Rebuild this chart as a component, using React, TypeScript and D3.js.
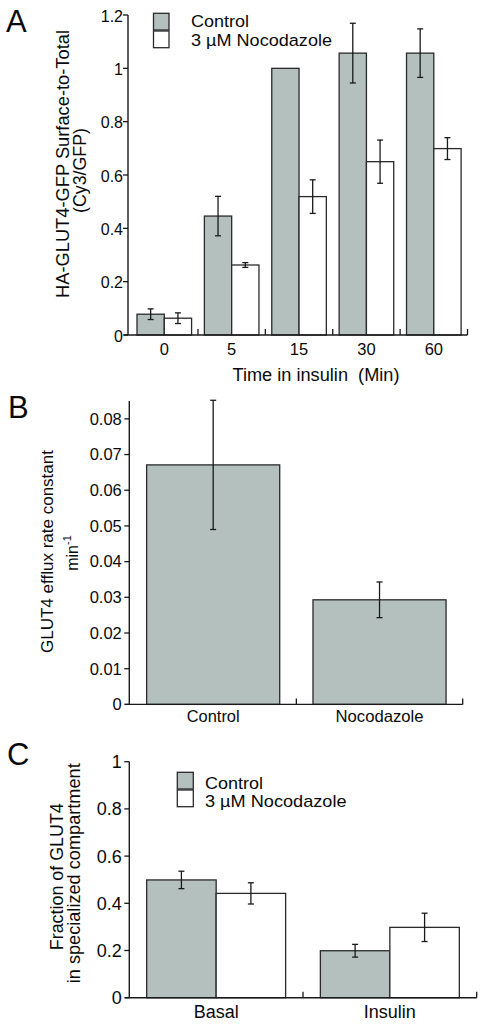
import React from "react";
import * as d3 from "d3";

// ---------- Data ----------
// Panel A
const timeCategories = ["0", "5", "15", "30", "60"];
const aControl = [0.078, 0.446, 1.0, 1.057, 1.057];
const aControlErr = [0.02, 0.074, 0, 0.112, 0.091];
const aNoco = [0.063, 0.2625, 0.519, 0.65, 0.699];
const aNocoErr = [0.02, 0.009, 0.063, 0.081, 0.041];
const aTicks = [0, 0.2, 0.4, 0.6, 0.8, 1, 1.2];

// Panel B
const bCategories = ["Control", "Nocodazole"];
const bValues = [0.0671, 0.0293];
const bErr = [0.0181, 0.005];
const bTicks = [0, 0.01, 0.02, 0.03, 0.04, 0.05, 0.06, 0.07, 0.08];

// Panel C
const cCategories = ["Basal", "Insulin"];
const cControl = [0.499, 0.199];
const cControlErr = [0.037, 0.027];
const cNoco = [0.442, 0.298];
const cNocoErr = [0.045, 0.06];
const cTicks = [0, 0.2, 0.4, 0.6, 0.8, 1];

const seriesNames = ["Control", "3 \u00b5M Nocodazole"];

// ---------- Styles ----------
const FONT = "'Liberation Sans', Arial, Helvetica, sans-serif";
const GRAY = "#b3c0bd";
const AX = "#1a1a1a";
const BAR_STROKE = "#2a2a2a";
const TXT = "#0a0a0a";

const fmt = (v: number) => String(+v.toFixed(3));

function ErrorBar({ x, y0, y1 }: { x: number; y0: number; y1: number }) {
  if (Math.abs(y1 - y0) < 0.5) return null;
  return (
    <g stroke={AX} strokeWidth={1.3}>
      <line x1={x} x2={x} y1={y0} y2={y1} />
      <line x1={x - 3} x2={x + 3} y1={y0} y2={y0} />
      <line x1={x - 3} x2={x + 3} y1={y1} y2={y1} />
    </g>
  );
}

function YAxis({
  y,
  x,
  ticks,
  top,
  fontSize,
  gap,
  dy,
}: {
  y: d3.ScaleLinear<number, number>;
  x: number;
  ticks: number[];
  top: number;
  fontSize: number;
  gap: number;
  dy: number;
}) {
  return (
    <g>
      <line x1={x} x2={x} y1={y(0)} y2={top} stroke={AX} strokeWidth={1.4} />
      {ticks.map((t) => (
        <g key={t}>
          <line x1={x - 5} x2={x} y1={y(t)} y2={y(t)} stroke={AX} strokeWidth={1.3} />
          <text
            x={x - gap}
            y={y(t) + dy}
            textAnchor="end"
            fontSize={fontSize}
            fontFamily={FONT}
            fill={TXT}
          >
            {fmt(t)}
          </text>
        </g>
      ))}
    </g>
  );
}

function XAxisLine({
  x,
  y0,
  xStart,
}: {
  x: d3.ScaleBand<string>;
  y0: number;
  xStart: number;
}) {
  const r = x.range();
  const step = x.step();
  const n = x.domain().length;
  const bounds = d3.range(1, n + 1).map((i) => r[0] + step * i);
  return (
    <g stroke={AX} strokeWidth={1.4}>
      <line x1={xStart} x2={r[1]} y1={y0} y2={y0} />
      {bounds.map((b, i) => (
        <line key={i} x1={b} x2={b} y1={y0} y2={y0 - 6} strokeWidth={1.3} />
      ))}
    </g>
  );
}

function Legend({
  x,
  y,
  boxW,
  boxH,
  textX,
  baselines,
  fontSize,
  lengths,
}: {
  x: number;
  y: number[];
  boxW: number;
  boxH: number;
  textX: number;
  baselines: number[];
  fontSize: number;
  lengths: number[];
}) {
  const fills = [GRAY, "#fff"];
  return (
    <g>
      {seriesNames.map((s, i) => (
        <g key={s}>
          <rect
            x={x}
            y={y[i]}
            width={boxW}
            height={boxH}
            fill={fills[i]}
            stroke={BAR_STROKE}
            strokeWidth={1.3}
          />
          <text
            x={textX}
            y={baselines[i]}
            fontSize={fontSize}
            fontFamily={FONT}
            fill={TXT}
            textLength={lengths[i]}
            lengthAdjust="spacingAndGlyphs"
          >
            {s}
          </text>
        </g>
      ))}
    </g>
  );
}

function Label({
  x,
  y,
  rotate,
  size,
  length,
  children,
}: {
  x: number;
  y: number;
  rotate?: boolean;
  size: number;
  length?: number;
  children: React.ReactNode;
}) {
  return (
    <text
      transform={`translate(${x},${y})${rotate ? " rotate(-90)" : ""}`}
      textAnchor="middle"
      fontSize={size}
      fontFamily={FONT}
      fill={TXT}
      textLength={length}
      lengthAdjust={length ? "spacingAndGlyphs" : undefined}
    >
      {children}
    </text>
  );
}

export default function App() {
  // ----- Panel A -----
  const ax = d3
    .scaleBand<string>()
    .domain(timeCategories)
    .range([130.6, 467.5])
    .paddingInner(0.19)
    .paddingOuter(0.095);
  const axInner = d3
    .scaleBand<string>()
    .domain(["c", "n"])
    .range([0, ax.bandwidth()]);
  const ay = d3.scaleLinear().domain([0, 1.2]).range([335, 15]);

  // ----- Panel B -----
  const bx = d3
    .scaleBand<string>()
    .domain(bCategories)
    .range([130, 462.7])
    .paddingInner(0.2)
    .paddingOuter(0.1);
  const by = d3.scaleLinear().domain([0, 0.085]).range([704.4, 401]);

  // ----- Panel C -----
  const cx = d3
    .scaleBand<string>()
    .domain(cCategories)
    .range([129.3, 476.7])
    .paddingInner(0.2)
    .paddingOuter(0.1);
  const cxInner = d3
    .scaleBand<string>()
    .domain(["c", "n"])
    .range([0, cx.bandwidth()]);
  const cy = d3.scaleLinear().domain([0, 1]).range([997.7, 761.7]);

  const bw = axInner.bandwidth();
  const cbw = cxInner.bandwidth();

  const bLabelLen = [53, 88];
  const cLabelLen = [45, 52];

  return (
    <svg
      width={480}
      height={1024}
      style={{ position: "absolute", left: 0, top: 0, background: "#fff" }}
      fontFamily={FONT}
    >
      <rect x={0} y={0} width={480} height={1024} fill="#fff" />

      {/* ================= Panel A ================= */}
      <text x={6} y={31.5} fontSize={31} fontFamily={FONT} fill={TXT}>
        A
      </text>
      {timeCategories.map((c, i) => {
        const x0 = ax(c)!;
        return (
          <g key={c}>
            <rect
              x={x0 + axInner("c")!}
              y={ay(aControl[i])}
              width={bw}
              height={ay(0) - ay(aControl[i])}
              fill={GRAY}
              stroke={BAR_STROKE}
              strokeWidth={1.3}
            />
            <rect
              x={x0 + axInner("n")!}
              y={ay(aNoco[i])}
              width={bw}
              height={ay(0) - ay(aNoco[i])}
              fill="#fff"
              stroke={BAR_STROKE}
              strokeWidth={1.3}
            />
            <ErrorBar
              x={x0 + axInner("c")! + bw / 2}
              y0={ay(aControl[i] - aControlErr[i])}
              y1={ay(aControl[i] + aControlErr[i])}
            />
            <ErrorBar
              x={x0 + axInner("n")! + bw / 2}
              y0={ay(aNoco[i] - aNocoErr[i])}
              y1={ay(aNoco[i] + aNocoErr[i])}
            />
          </g>
        );
      })}
      <XAxisLine x={ax} y0={ay(0)} xStart={124} />
      <YAxis y={ay} x={128} ticks={aTicks} top={ay(1.2)} fontSize={16} gap={5} dy={6.5} />
      {timeCategories.map((c) => (
        <text
          key={c}
          x={ax(c)! + ax.bandwidth() / 2}
          y={355}
          textAnchor="middle"
          fontSize={16.5}
          fontFamily={FONT}
          fill={TXT}
        >
          {c}
        </text>
      ))}
      <Label x={316} y={381} size={18} length={167}>
        {"Time in insulin\u00a0 (Min)"}
      </Label>
      <Label x={69} y={164} rotate size={18} length={268}>
        HA-GLUT4-GFP Surface-to-Total
      </Label>
      <Label x={86} y={170.5} rotate size={18} length={85}>
        (Cy3/GFP)
      </Label>
      <Legend
        x={153.5}
        y={[13.3, 31]}
        boxW={15.5}
        boxH={16.7}
        textX={191}
        baselines={[27.3, 45.8]}
        fontSize={16.8}
        lengths={[58, 141]}
      />

      {/* ================= Panel B ================= */}
      <text x={8} y={418} fontSize={31} fontFamily={FONT} fill={TXT}>
        B
      </text>
      {bCategories.map((c, i) => (
        <g key={c}>
          <rect
            x={bx(c)!}
            y={by(bValues[i])}
            width={bx.bandwidth()}
            height={by(0) - by(bValues[i])}
            fill={GRAY}
            stroke={BAR_STROKE}
            strokeWidth={1.3}
          />
          <ErrorBar
            x={bx(c)! + bx.bandwidth() / 2}
            y0={by(bValues[i] - bErr[i])}
            y1={by(bValues[i] + bErr[i])}
          />
          <Label x={bx(c)! + bx.bandwidth() / 2} y={721.5} size={17} length={bLabelLen[i]}>
            {c}
          </Label>
        </g>
      ))}
      <XAxisLine x={bx} y0={by(0)} xStart={125} />
      <YAxis y={by} x={129.3} ticks={bTicks} top={401} fontSize={16.5} gap={7.5} dy={5.8} />
      <Label x={53} y={551.5} rotate size={17} length={203}>
        GLUT4 efflux rate constant
      </Label>
      <text
        transform="translate(78,553) rotate(-90)"
        textAnchor="middle"
        fontSize={16}
        fontFamily={FONT}
        fill={TXT}
      >
        min
        <tspan dy={-7} fontSize={11}>
          -1
        </tspan>
      </text>

      {/* ================= Panel C ================= */}
      <text x={7} y={765} fontSize={31} fontFamily={FONT} fill={TXT}>
        C
      </text>
      {cCategories.map((c, i) => {
        const x0 = cx(c)!;
        return (
          <g key={c}>
            <rect
              x={x0 + cxInner("c")!}
              y={cy(cControl[i])}
              width={cbw}
              height={cy(0) - cy(cControl[i])}
              fill={GRAY}
              stroke={BAR_STROKE}
              strokeWidth={1.3}
            />
            <rect
              x={x0 + cxInner("n")!}
              y={cy(cNoco[i])}
              width={cbw}
              height={cy(0) - cy(cNoco[i])}
              fill="#fff"
              stroke={BAR_STROKE}
              strokeWidth={1.3}
            />
            <ErrorBar
              x={x0 + cxInner("c")! + cbw / 2}
              y0={cy(cControl[i] - cControlErr[i])}
              y1={cy(cControl[i] + cControlErr[i])}
            />
            <ErrorBar
              x={x0 + cxInner("n")! + cbw / 2}
              y0={cy(cNoco[i] - cNocoErr[i])}
              y1={cy(cNoco[i] + cNocoErr[i])}
            />
            <Label x={x0 + cx.bandwidth() / 2} y={1018} size={18} length={cLabelLen[i]}>
              {c}
            </Label>
          </g>
        );
      })}
      <XAxisLine x={cx} y0={cy(0)} xStart={125} />
      <YAxis y={cy} x={129.3} ticks={cTicks} top={cy(1)} fontSize={18} gap={7.5} dy={6.4} />
      <Label x={63} y={876.7} rotate size={18} length={147}>
        Fraction of GLUT4
      </Label>
      <Label x={80} y={873.3} rotate size={18} length={220}>
        in specialized compartment
      </Label>
      <Legend
        x={177.3}
        y={[772.3, 790]}
        boxW={16}
        boxH={16.7}
        textX={205}
        baselines={[788.7, 807.2]}
        fontSize={17}
        lengths={[58, 141.5]}
      />
    </svg>
  );
}
